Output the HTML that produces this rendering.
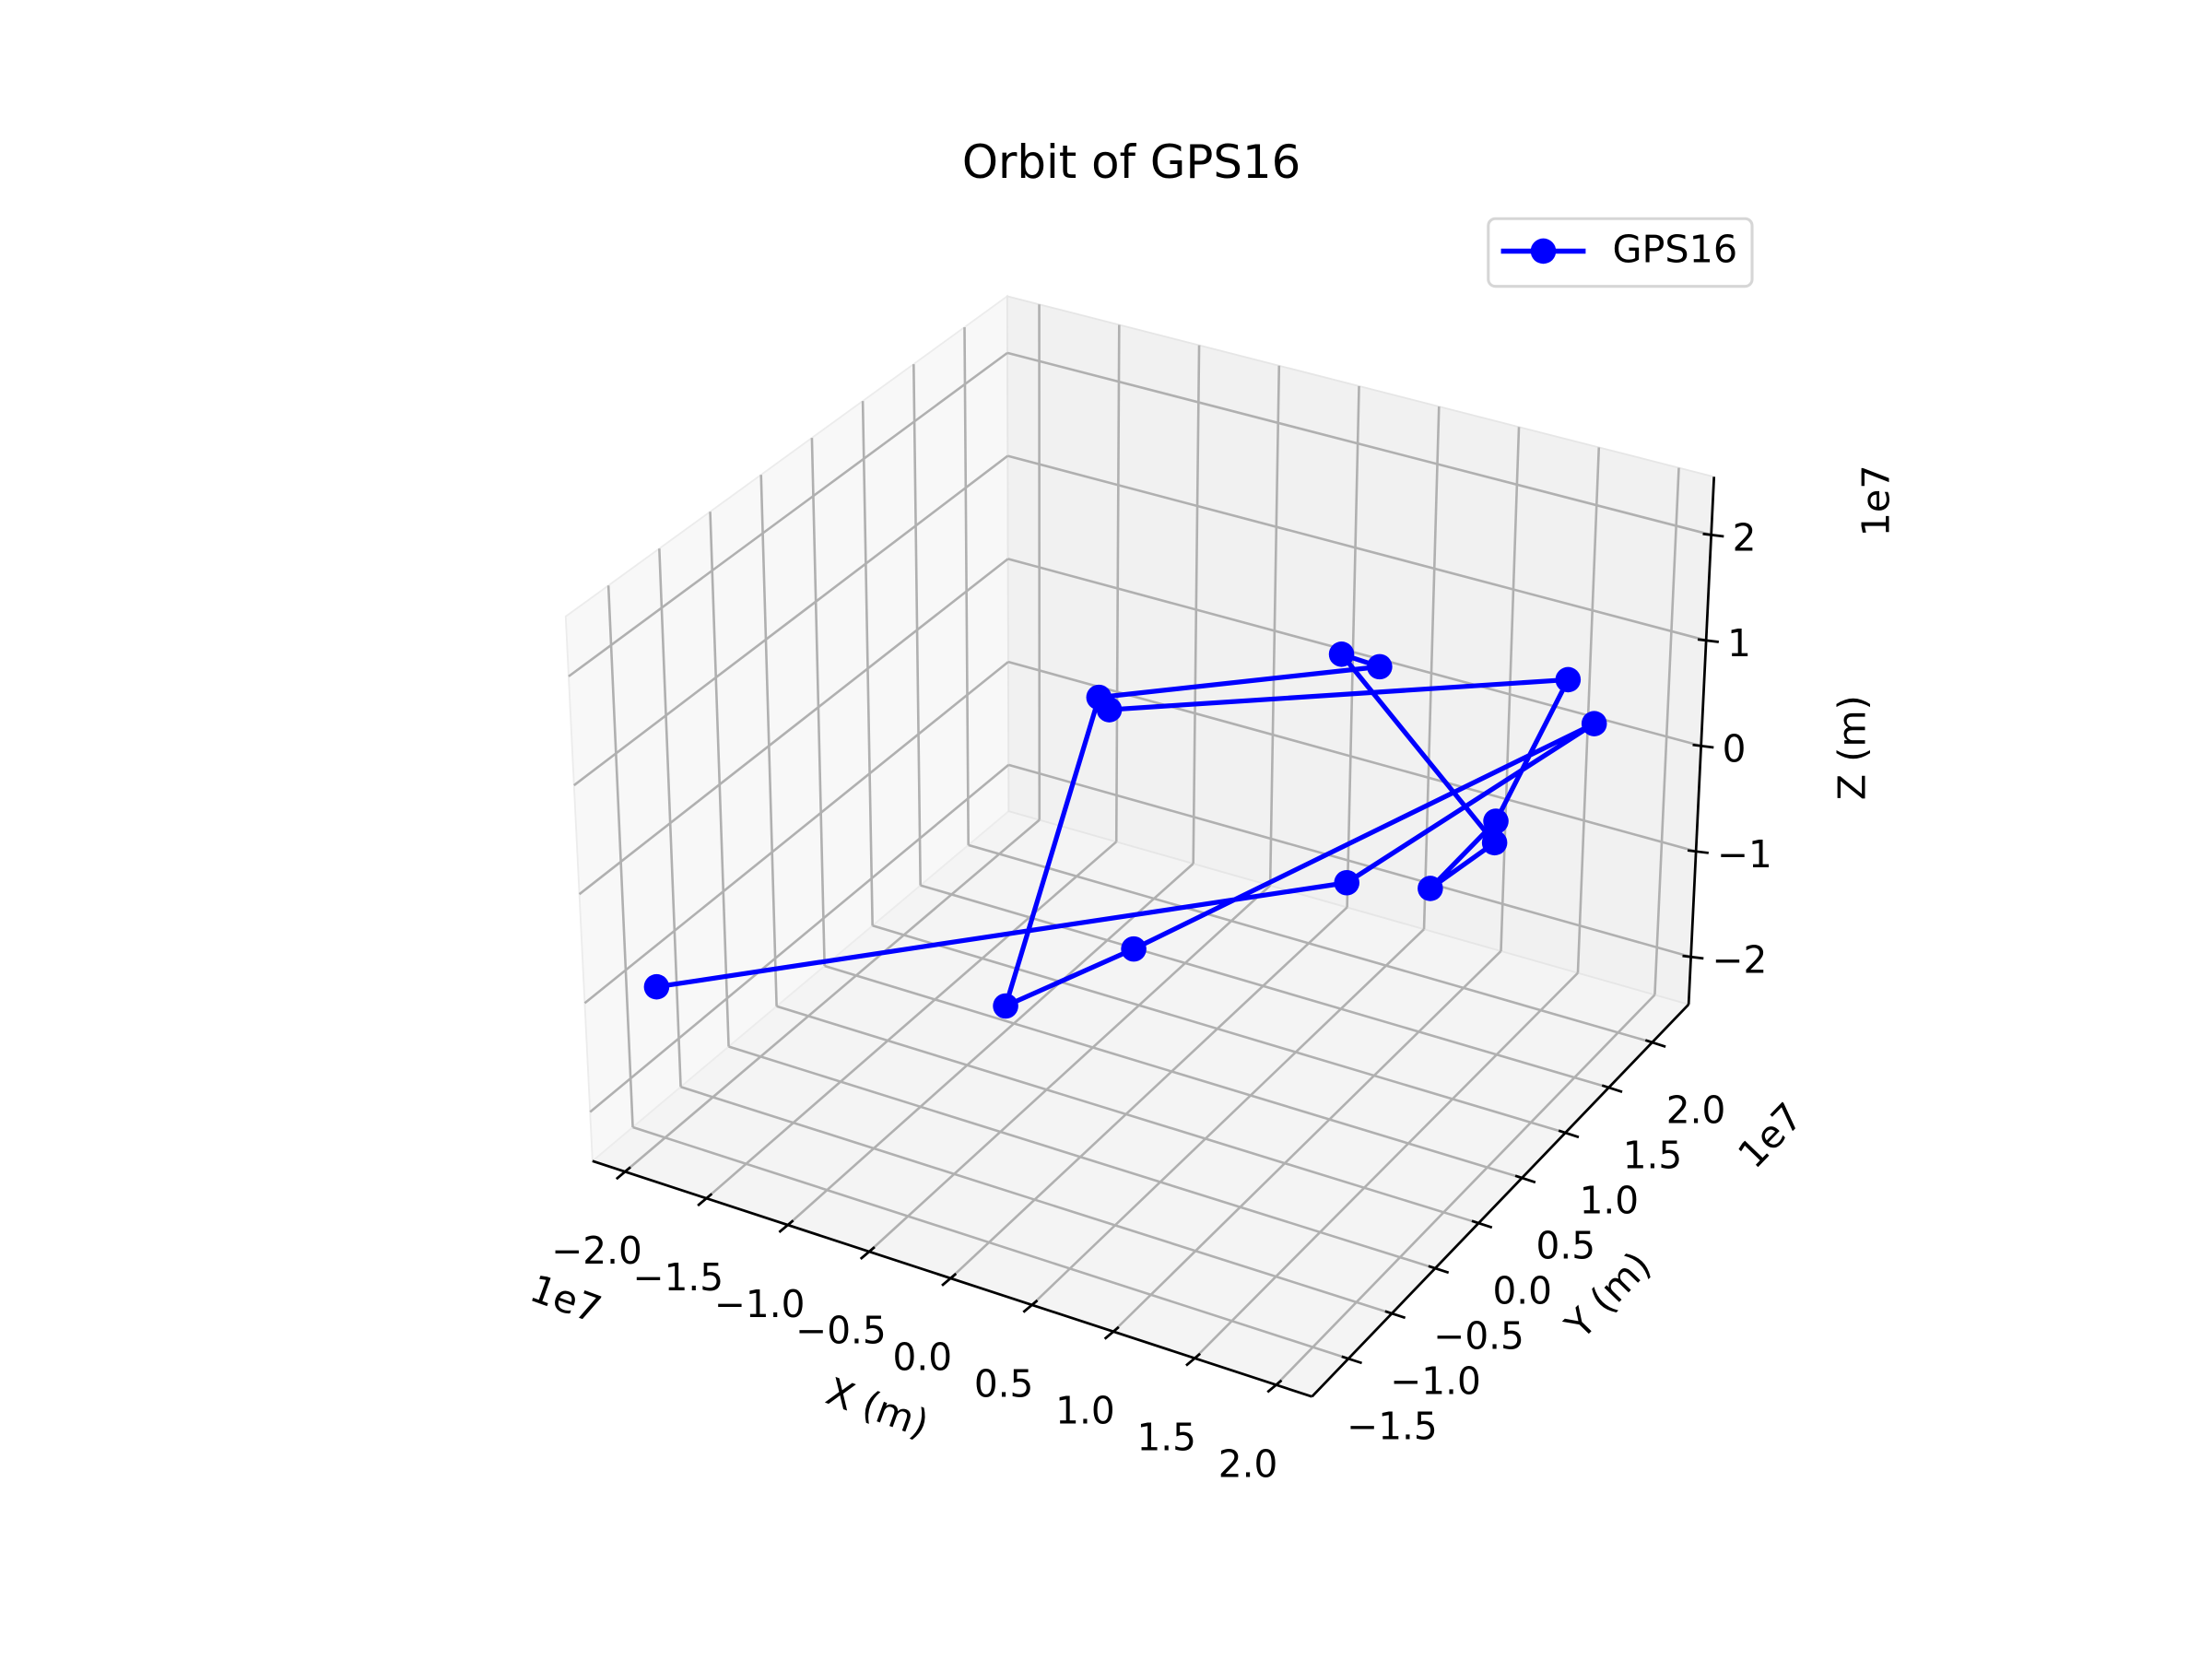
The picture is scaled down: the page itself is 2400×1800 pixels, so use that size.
<!DOCTYPE html>
<html>
<head>
<meta charset="utf-8">
<style>
  html, body { margin: 0; padding: 0; background: #ffffff; }
  svg { display: block; }
  text { font-family: "DejaVu Sans", "Liberation Sans", sans-serif; fill: #000; }
</style>
</head>
<body>
<svg id="chart" width="2400" height="1800" viewBox="0 0 1568 1176" xmlns="http://www.w3.org/2000/svg">
  <rect x="0" y="0" width="1568" height="1176" fill="#ffffff"/>
  <g id="panes"></g>
  <g id="grid"></g>
  <g id="axes"></g>
  <g id="ticklabels"></g>
  <g id="series"></g>
  <text x="802" y="126" font-size="32.5" text-anchor="middle">Orbit of GPS16</text>
  <text x="622" y="998" font-size="27" text-anchor="middle" dominant-baseline="central" transform="rotate(20 622 998)">X (m)</text>
  <text x="1140" y="918" font-size="27" text-anchor="middle" dominant-baseline="central" transform="rotate(-46 1140 918)">Y (m)</text>
  <text x="1313" y="530" font-size="27" text-anchor="middle" dominant-baseline="central" transform="rotate(-90 1313 530)">Z (m)</text>
  <text x="401" y="921" font-size="27" text-anchor="middle" dominant-baseline="central" transform="rotate(20 401 921)">1e7</text>
  <text x="1255" y="805" font-size="27" text-anchor="middle" dominant-baseline="central" transform="rotate(-46 1255 805)">1e7</text>
  <text x="1330" y="355" font-size="27" text-anchor="middle" dominant-baseline="central" transform="rotate(-90 1330 355)">1e7</text>
  <g>
    <rect x="1055" y="155" width="187" height="48" rx="5" fill="#ffffff" stroke="#d6d6d6" stroke-width="2"/>
    <line x1="1064" y1="178" x2="1124" y2="178" stroke="#0000ff" stroke-width="3.6"/>
    <circle cx="1094" cy="178" r="9" fill="#0000ff"/>
    <text x="1143" y="186" font-size="27">GPS16</text>
  </g>
</svg>
<script>
// ---- data (units of 1e7 m) ----
const xs = [-1.89, 0.98, 2.01, 0.15, -0.14, 0.19, 0.91, 0.43, 1.65, 1.73, 1.89, 1.60, 0.00];
const ys = [-1.70, 0.68, 1.55, -0.18, -1.05, -0.62, 1.12, 1.55, 1.12, 0.25, 0.68, 1.99, -0.18];
const zs = [-0.86, -0.39, 0.84, -0.70, -0.69, 1.99, 1.26, 0.84, -0.08, 0.23, 0.58, 0.73, 1.46];
const xTicks = [-2.0, -1.5, -1.0, -0.5, 0.0, 0.5, 1.0, 1.5, 2.0];
const yTicks = [-1.5, -1.0, -0.5, 0.0, 0.5, 1.0, 1.5, 2.0];
const zTicks = [-2, -1, 0, 1, 2];
const xTickLabels = ["\u22122.0", "\u22121.5", "\u22121.0", "\u22120.5", "0.0", "0.5", "1.0", "1.5", "2.0"];
const yTickLabels = ["\u22121.5", "\u22121.0", "\u22120.5", "0.0", "0.5", "1.0", "1.5", "2.0"];
const zTickLabels = ["\u22122", "\u22121", "0", "1", "2"];

// ---- projection ----
const XL = [-2.2, 2.22], YL = [-1.92, 2.42], ZL = [-2.45, 2.55];
const C = {
  '000': [420, 823], '100': [930, 990], '110': [1197, 712], '010': [715, 575],
  '001': [401, 437], '101': [937, 600], '111': [1215, 338], '011': [714, 210]
};
function lerp(a, b, t) { return [a[0] + (b[0] - a[0]) * t, a[1] + (b[1] - a[1]) * t]; }
function P(u, v, w) {
  const a = lerp(C['000'], C['100'], u), b = lerp(C['010'], C['110'], u);
  const c = lerp(C['001'], C['101'], u), d = lerp(C['011'], C['111'], u);
  return lerp(lerp(a, b, v), lerp(c, d, v), w);
}
const sx = x => (x - XL[0]) / (XL[1] - XL[0]);
const sy = y => (y - YL[0]) / (YL[1] - YL[0]);
const sz = z => (z - ZL[0]) / (ZL[1] - ZL[0]);
const NS = 'http://www.w3.org/2000/svg';
function mk(tag, parent, attrs) {
  const e = document.createElementNS(NS, tag);
  for (const k in attrs) e.setAttribute(k, attrs[k]);
  parent.appendChild(e);
  return e;
}
const pts = a => a.map(p => p[0].toFixed(2) + ',' + p[1].toFixed(2)).join(' ');

// panes
const gP = document.getElementById('panes');
let pn = mk('polygon', gP, { points: pts([P(0,0,0), P(1,0,0), P(1,1,0), P(0,1,0)]), fill: '#f4f4f4', stroke: '#ececec', 'stroke-width': 1.2 });


pn = mk('polygon', gP, { points: pts([P(0,0,0), P(0,1,0), P(0,1,1), P(0,0,1)]), fill: '#f8f8f8', stroke: '#ececec', 'stroke-width': 1.2 });


pn = mk('polygon', gP, { points: pts([P(0,1,0), P(1,1,0), P(1,1,1), P(0,1,1)]), fill: '#f1f1f1', stroke: '#e6e6e6', 'stroke-width': 1.2 });



// grid
const gG = document.getElementById('grid');
const gs = { stroke: '#b0b0b0', 'stroke-width': 1.7, fill: 'none' };
function gl(a, b, name) {
  const l = mk('polyline', gG, Object.assign({ points: pts([a, b]) }, gs));
  
  
}
xTicks.forEach(t => { const u = sx(t); gl(P(u,0,0), P(u,1,0), 'x-grid-floor'); gl(P(u,1,0), P(u,1,1), 'x-grid-wall'); });
yTicks.forEach(t => { const v = sy(t); gl(P(0,v,0), P(1,v,0), 'y-grid-floor'); gl(P(0,v,0), P(0,v,1), 'y-grid-wall'); });
zTicks.forEach(t => { const w = sz(t); gl(P(0,0,w), P(0,1,w), 'z-grid-left'); gl(P(0,1,w), P(1,1,w), 'z-grid-back'); });

// axes lines and ticks
const gA = document.getElementById('axes');
const as = { stroke: '#000', 'stroke-width': 1.8, fill: 'none' };
let ax = mk('polyline', gA, Object.assign({ points: pts([P(0,0,0), P(1,0,0)]) }, as));


ax = mk('polyline', gA, Object.assign({ points: pts([P(1,0,0), P(1,1,0)]) }, as));


ax = mk('polyline', gA, Object.assign({ points: pts([P(1,1,0), P(1,1,1)]) }, as));



const gT = document.getElementById('ticklabels');
function tick(p, d, a, b, name) {
  const t = mk('polyline', gA, Object.assign({ points: pts([[p[0] + d[0]*a, p[1] + d[1]*a], [p[0] + d[0]*b, p[1] + d[1]*b]]) }, as));
  
  
}
function label(p, dx, dy, s, name, anchor) {
  const t = mk('text', gT, { x: (p[0] + dx).toFixed(2), y: (p[1] + dy).toFixed(2), 'font-size': 26.5, 'text-anchor': anchor || 'middle', 'dominant-baseline': 'central' });
  t.textContent = s;
  
  
}
xTicks.forEach((t, i) => {
  const p = P(sx(t), 0, 0);
  tick(p, [0.766, -0.644], 5, -8, 'x-tick');
  label(p, -20, 56, xTickLabels[i], 'x-tick-label');
});
yTicks.forEach((t, i) => {
  const p = P(1, sy(t), 0);
  tick(p, [0.95, 0.31], -5, 10, 'y-tick');
  label(p, 31, 48, yTickLabels[i], 'y-tick-label');
});
zTicks.forEach((t, i) => {
  const p = P(1, 1, sz(t));
  tick(p, [0.993, 0.12], -6, 9, 'z-tick');
  label(p, 15, 2, zTickLabels[i], 'z-tick-label', 'start');
});

// series
const gS = document.getElementById('series');
const proj = xs.map((x, i) => P(sx(x), sy(ys[i]), sz(zs[i])));
const line = mk('polyline', gS, { points: pts(proj), fill: 'none', stroke: '#0000ff', 'stroke-width': 3.4, 'stroke-linejoin': 'round' });


proj.forEach(p => {
  const c = mk('circle', gS, { cx: p[0].toFixed(2), cy: p[1].toFixed(2), r: 9, fill: '#0000ff' });
  
  
});
</script>
</body>
</html>
